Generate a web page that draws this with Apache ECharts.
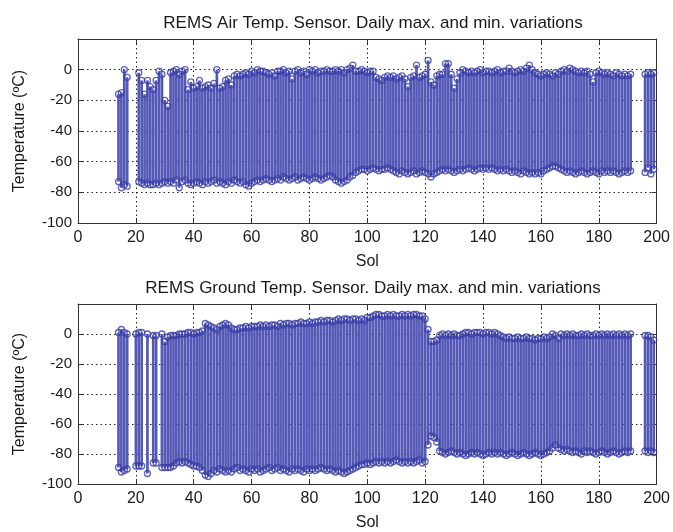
<!DOCTYPE html>
<html>
<head>
<meta charset="utf-8">
<script src="https://cdn.jsdelivr.net/npm/echarts@6/dist/echarts.min.js"></script>
<style>
html,body{margin:0;padding:0;background:#fff;}
#chart{width:673px;height:532px;}
</style>
</head>
<body>
<div id="chart"></div>
<script>
// ---------- DATA ----------
const xTicks = [0, 20, 40, 60, 80, 100, 120, 140, 160, 180, 200];
const yTicks = [-100, -80, -60, -40, -20, 0];

const airSols = [
  14,15,16,17,
  21,22,23,24,25,26,27,28,29,30,
  31,32,33,34,35,36,37,38,39,40,
  41,42,43,44,45,46,47,48,49,50,
  51,52,53,54,55,56,57,58,59,60,
  61,62,63,64,65,66,67,68,69,70,
  71,72,73,74,75,76,77,78,79,80,
  81,82,83,84,85,86,87,88,89,90,
  91,92,93,94,95,96,97,98,99,100,
  101,102,103,104,105,106,107,108,109,110,
  111,112,113,114,115,116,117,118,119,120,
  121,122,123,124,125,126,127,128,129,130,
  131,132,133,134,135,136,137,138,139,140,
  141,142,143,144,145,146,147,148,149,150,
  151,152,153,154,155,156,157,158,159,160,
  161,162,163,164,165,166,167,168,169,170,
  171,172,173,174,175,176,177,178,179,180,
  181,182,183,184,185,186,187,188,189,190,
  191,
  196,197,198,199
];
const airMax = [
  -16,-15,0,-5,
  -2,-7,-16,-7,-11,-13,-7,-1,-3,-20,
  -24,-2,-1,0,-3,-1,0,-13,-8,-12,
  -11,-7,-12,-11,-10,-12,-9,0,-12,-11,
  -7,-6,-10,-4,-3,-4,-3,-2,-3,-1,
  -2,0,-1,-1,-2,-3,-2,-4,-1,-1,
  0,-2,-1,-6,-1,0,-2,-1,-3,0,
  -1,0,-2,-1,-1,0,-1,-1,0,-1,
  0,-2,0,1,3,-1,-1,0,-1,-2,
  -1,-1,-5,-6,-7,-5,-4,-5,-4,-6,
  -5,-4,-6,-11,-5,-4,3,-5,-4,-3,
  6,-8,-10,-4,-3,-3,4,4,-3,-12,
  -6,-2,0,-1,-2,-1,-2,-1,0,-2,
  -1,-1,-2,-1,0,-2,-1,-1,1,-1,
  -2,-1,0,-1,1,3,0,-2,-3,-4,
  -3,-2,-3,-4,-2,-3,-1,0,-1,1,
  0,-1,-2,-1,-2,-1,-3,-8,-2,-1,
  -2,-3,-2,-3,-4,-2,-3,-4,-3,-4,
  -3,
  -3,-2,-3,-2
];
const airMin = [
  -73,-77,-75,-76,
  -73,-74,-75,-74,-75,-75,-74,-75,-74,-73,
  -74,-73,-74,-72,-77,-73,-72,-74,-75,-74,
  -73,-74,-75,-73,-74,-73,-72,-74,-73,-74,
  -75,-73,-74,-72,-73,-74,-73,-75,-76,-74,
  -73,-72,-73,-72,-71,-72,-73,-72,-71,-72,
  -70,-71,-72,-71,-70,-72,-71,-70,-71,-72,
  -71,-70,-71,-72,-71,-70,-69,-70,-72,-73,
  -74,-73,-72,-70,-69,-67,-66,-65,-65,-66,
  -65,-64,-65,-66,-65,-65,-64,-65,-66,-67,
  -68,-66,-67,-68,-67,-66,-68,-67,-66,-67,
  -68,-70,-68,-67,-66,-65,-66,-65,-66,-67,
  -66,-65,-66,-65,-64,-65,-66,-65,-64,-65,
  -64,-65,-64,-65,-66,-65,-66,-65,-66,-67,
  -66,-67,-68,-66,-67,-68,-67,-68,-67,-68,
  -66,-65,-64,-63,-63,-64,-65,-66,-67,-66,
  -67,-68,-67,-66,-67,-68,-67,-66,-67,-68,
  -66,-67,-66,-67,-66,-67,-68,-67,-66,-67,
  -66,
  -67,-64,-68,-65
];

const groundSols = [
  14,15,16,17,
  20,21,22,24,
  26,27,
  29,30,
  31,32,33,34,35,36,37,38,39,40,
  41,42,43,44,45,46,47,48,49,50,
  51,52,53,54,55,56,57,58,59,60,
  61,62,63,64,65,66,67,68,69,70,
  71,72,73,74,75,76,77,78,79,80,
  81,82,83,84,85,86,87,88,89,90,
  91,92,93,94,95,96,97,98,99,100,
  101,102,103,104,105,106,107,108,109,110,
  111,112,113,114,115,116,117,118,119,120,
  121,122,123,124,125,126,127,128,129,130,
  131,132,133,134,135,136,137,138,139,140,
  141,142,143,144,145,146,147,148,149,150,
  151,152,153,154,155,156,157,158,159,160,
  161,162,163,164,165,166,167,168,169,170,
  171,172,173,174,175,176,177,178,179,180,
  181,182,183,184,185,186,187,188,189,190,
  191,
  196,197,198,199
];
const groundMax = [
  1,3,1,0,
  0,1,1,0,
  -1,-1,
  0,-5,
  -2,-1,-1,-1,0,0,0,1,1,0,
  1,1,2,7,6,5,4,3,5,6,
  7,6,4,3,3,4,4,5,4,5,
  5,5,6,5,6,5,6,6,5,7,
  6,7,7,6,7,7,8,7,7,8,
  7,8,8,9,8,9,9,8,9,10,
  9,10,10,9,10,10,9,10,9,11,
  11,12,13,13,12,12,13,12,13,12,
  12,13,12,13,12,13,13,12,12,10,
  3,-5,-5,-4,-1,0,-1,0,-1,0,
  -1,-1,0,1,1,0,1,1,1,0,
  1,1,0,1,0,-1,-2,-3,-2,-3,
  -3,-2,-3,-3,-2,-3,-3,-4,-3,-3,
  -2,-3,-2,0,-1,-3,0,-1,0,-1,
  0,-1,-1,0,-1,0,-1,-1,0,-1,
  0,-1,0,-1,0,-1,0,-1,0,-1,
  0,
  -1,-1,-2,-4
];
const groundMin = [
  -89,-92,-91,-90,
  -88,-88,-88,-93,
  -86,-86,
  -89,-89,
  -89,-89,-88,-86,-85,-86,-85,-86,-87,-88,
  -88,-89,-91,-94,-95,-93,-91,-92,-90,-91,
  -92,-91,-92,-90,-89,-91,-90,-91,-92,-90,
  -91,-90,-92,-91,-90,-89,-91,-90,-89,-91,
  -90,-91,-92,-90,-91,-90,-91,-92,-90,-91,
  -90,-91,-90,-89,-90,-91,-90,-91,-92,-91,
  -92,-93,-92,-91,-90,-89,-88,-87,-87,-86,
  -87,-86,-85,-86,-85,-86,-85,-86,-85,-84,
  -85,-86,-85,-86,-85,-86,-85,-84,-86,-85,
  -74,-68,-69,-72,-78,-79,-80,-79,-78,-79,
  -80,-79,-80,-81,-80,-79,-80,-79,-80,-81,
  -80,-79,-80,-79,-80,-79,-80,-81,-80,-79,
  -80,-81,-80,-79,-80,-81,-80,-79,-80,-81,
  -80,-79,-78,-76,-74,-76,-77,-78,-77,-78,
  -79,-78,-79,-80,-78,-79,-78,-79,-80,-79,
  -78,-79,-80,-79,-78,-79,-80,-79,-78,-79,
  -78,
  -78,-79,-78,-79
];

const titles = [
  'REMS Air Temp. Sensor. Daily max. and min. variations',
  'REMS Ground Temp. Sensor. Daily max. and min. variations'
];
const xName = 'Sol';
const yName = 'Temperature (ºC)';

// ---------- STYLE ----------
const FONT = '"Liberation Sans", Arial, Helvetica, sans-serif';
const TXT = '#1a1a1a';
const STEM = '#5559b6';
const MARK = '#3a3ea6';
const gridTops = [39, 304];
const GH = 184;

const chart = echarts.init(document.getElementById('chart'), null, {renderer: 'canvas'});

function stemSeries(gi, sols, mx, mn) {
  return {
    type: 'custom',
    xAxisIndex: gi * 2,
    yAxisIndex: gi * 2,
    data: sols.map((s, i) => [s, mn[i], mx[i]]),
    encode: {x: 0, y: [1, 2]},
    z: 2,
    renderItem: function (params, api) {
      const a = api.coord([api.value(0), api.value(1)]);
      const b = api.coord([api.value(0), api.value(2)]);
      return {
        type: 'line',
        shape: {x1: a[0], y1: a[1], x2: b[0], y2: b[1]},
        style: {stroke: STEM, lineWidth: 2.7}
      };
    }
  };
}
function markSeries(gi, sols, vals) {
  return {
    type: 'scatter',
    xAxisIndex: gi * 2,
    yAxisIndex: gi * 2,
    data: sols.map((s, i) => [s, vals[i]]),
    symbol: 'circle',
    symbolSize: 6,
    z: 3,
    itemStyle: {color: 'rgba(255,255,255,0)', borderColor: MARK, borderWidth: 1.3}
  };
}

const grids = [], xAxes = [], yAxes = [];
for (let g = 0; g < 2; g++) {
  grids.push({left: 78, right: 15, top: gridTops[g], height: GH, containLabel: false});
  xAxes.push({
    type: 'value', gridIndex: g, min: 0, max: 200, interval: 20, position: 'bottom',
    name: xName, nameLocation: 'middle', nameGap: 31,
    nameTextStyle: {fontFamily: FONT, fontSize: 16, color: TXT},
    axisLine: {show: true, onZero: false, lineStyle: {color: '#333', width: 1}},
    axisTick: {show: true, inside: true, length: 5, lineStyle: {color: '#333'}},
    axisLabel: {fontFamily: FONT, fontSize: 16, color: TXT, margin: 7},
    splitLine: {show: true, lineStyle: {color: '#222', width: 1, type: [1.5, 3]}}
  });
  xAxes.push({
    type: 'value', gridIndex: g, min: 0, max: 200, interval: 20, position: 'top',
    axisLine: {show: true, onZero: false, lineStyle: {color: '#333', width: 1}},
    axisTick: {show: true, inside: true, length: 5, lineStyle: {color: '#333'}},
    axisLabel: {show: false}, splitLine: {show: false}
  });
  yAxes.push({
    type: 'value', gridIndex: g, min: -100, max: 20, interval: 20, position: 'left',
    name: yName, nameLocation: 'middle', nameGap: 50, nameRotate: 90,
    nameTextStyle: {fontFamily: FONT, fontSize: 16, color: TXT},
    axisLine: {show: true, onZero: false, lineStyle: {color: '#333', width: 1}},
    axisTick: {show: true, inside: true, length: 5, lineStyle: {color: '#333'}},
    axisLabel: {fontFamily: FONT, fontSize: 15, color: TXT, margin: 6,
      formatter: v => (yTicks.indexOf(v) >= 0 ? String(v) : '')},
    splitLine: {show: true, lineStyle: {color: '#222', width: 1, type: [1.5, 3]}}
  });
  yAxes.push({
    type: 'value', gridIndex: g, min: -100, max: 20, interval: 20, position: 'right',
    axisLine: {show: true, onZero: false, lineStyle: {color: '#333', width: 1}},
    axisTick: {show: true, inside: true, length: 5, lineStyle: {color: '#333'}},
    axisLabel: {show: false}, splitLine: {show: false}
  });
}

const option = {
  animation: false,
  backgroundColor: '#fff',
  title: titles.map((t, i) => ({
    text: t, left: 368, textAlign: 'center', top: gridTops[i] - 29,
    textStyle: {fontFamily: FONT, fontSize: 17, fontWeight: 'normal', color: TXT}
  })),
  grid: grids,
  xAxis: xAxes,
  yAxis: yAxes,
  series: [
    stemSeries(0, airSols, airMax, airMin),
    markSeries(0, airSols, airMax),
    markSeries(0, airSols, airMin),
    stemSeries(1, groundSols, groundMax, groundMin),
    markSeries(1, groundSols, groundMax),
    markSeries(1, groundSols, groundMin)
  ]
};
chart.setOption(option);
</script>
</body>
</html>
